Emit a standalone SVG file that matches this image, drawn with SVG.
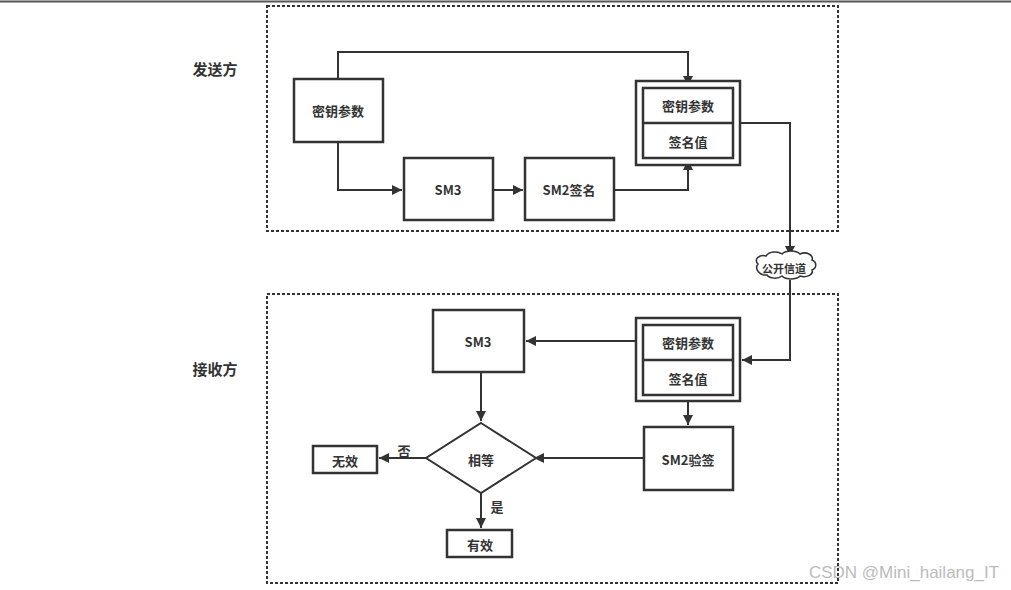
<svg xmlns="http://www.w3.org/2000/svg" width="1011" height="590" viewBox="0 0 1011 590">
<defs>
<marker id="a" viewBox="0 0 10 10" refX="10" refY="5" markerWidth="5" markerHeight="5" orient="auto"><path d="M0,0L10,5L0,10z" fill="#333"/></marker>
<style>
.t{font-family:"Noto Sans CJK SC","Liberation Sans",sans-serif;font-weight:bold;font-size:13px;fill:#333;text-anchor:middle;dominant-baseline:central}
.b{fill:#fff;stroke:#333;stroke-width:2.5}
.c{fill:none;stroke:#333;stroke-width:2}
.d{fill:none;stroke:#333;stroke-width:2;stroke-dasharray:3 2}
</style>
</defs>
<rect width="1011" height="590" fill="#fff"/>
<line x1="0" y1="1.5" x2="1011" y2="1.5" stroke="#555" stroke-width="2"/>
<rect class="d" x="267" y="6" width="571" height="225"/>
<rect class="d" x="267" y="294" width="571" height="289"/>
<text class="t" x="215" y="68" style="font-size:15px">发送方</text>
<text class="t" x="215" y="368" style="font-size:15px">接收方</text>
<g id="connectors">
<path class="c" d="M338,79V52H688V86" marker-end="url(#a)"/>
<path class="c" d="M338,142V190H402" marker-end="url(#a)"/>
<path class="c" d="M493,190H523" marker-end="url(#a)"/>
<path class="c" d="M614,190H688V160" marker-end="url(#a)"/>
<path class="c" d="M740,123H790V256" marker-end="url(#a)"/>
<path class="c" d="M790,280V360H742" marker-end="url(#a)"/>
<path class="c" d="M643,341H526" marker-end="url(#a)"/>
<path class="c" d="M688,401V425" marker-end="url(#a)"/>
<path class="c" d="M644,458H534" marker-end="url(#a)"/>
<path class="c" d="M481,372V421" marker-end="url(#a)"/>
<path class="c" d="M426,458H379" marker-end="url(#a)"/>
<path class="c" d="M481,493V528" marker-end="url(#a)"/>
</g>
<g id="s-key"><rect class="b" x="294" y="79" width="89" height="63"/><text class="t" x="338" y="110">密钥参数</text></g>
<g id="s-sm3"><rect class="b" x="404" y="158" width="89" height="62"/><text class="t" x="448" y="189">SM3</text></g>
<g id="s-sm2"><rect class="b" x="525" y="158" width="89" height="62"/><text class="t" x="569" y="189">SM2签名</text></g>
<g id="s-pack"><rect class="b" x="636" y="81" width="104" height="84"/><rect class="b" x="643" y="88" width="90" height="70"/><line x1="643" y1="123" x2="733" y2="123" stroke="#333" stroke-width="2.5"/><text class="t" x="688" y="105">密钥参数</text><text class="t" x="688" y="141">签名值</text></g>
<g id="cloud"><path d="M758,264c-5,-5 2,-10 8,-8c3,-5 12,-5 16,-2c4,-4 14,-4 18,0c6,-3 14,1 12,6c5,2 5,8 0,10c2,5 -6,8 -12,6c-4,4 -14,4 -18,0c-4,3 -12,3 -15,-1c-7,1 -13,-6 -9,-11z" fill="#fff" stroke="#333" stroke-width="1.5"/><text class="t" x="784" y="268" style="font-size:11px">公开信道</text></g>
<g id="r-sm3"><rect class="b" x="433" y="310" width="91" height="62"/><text class="t" x="478" y="341">SM3</text></g>
<g id="r-pack"><rect class="b" x="636" y="318" width="104" height="83"/><rect class="b" x="643" y="325" width="90" height="70"/><line x1="643" y1="360" x2="733" y2="360" stroke="#333" stroke-width="2.5"/><text class="t" x="688" y="342">密钥参数</text><text class="t" x="688" y="378">签名值</text></g>
<g id="r-sm2"><rect class="b" x="644" y="427" width="89" height="63"/><text class="t" x="688" y="459">SM2验签</text></g>
<g id="eq"><path d="M481,423L536,458L481,493L426,458z" fill="#fff" stroke="#333" stroke-width="2"/><text class="t" x="481" y="459">相等</text></g>
<g id="invalid"><rect class="b" x="313" y="446" width="64" height="27"/><text class="t" x="345" y="460">无效</text></g>
<g id="valid"><rect class="b" x="447" y="530" width="65" height="27"/><text class="t" x="480" y="544">有效</text></g>
<text class="t" x="404" y="450">否</text>
<text class="t" x="497" y="506">是</text>
<text x="904" y="578" font-family="Liberation Sans,sans-serif" font-size="17" fill="#bbb" text-anchor="middle">CSDN @Mini_hailang_IT</text>
</svg>
